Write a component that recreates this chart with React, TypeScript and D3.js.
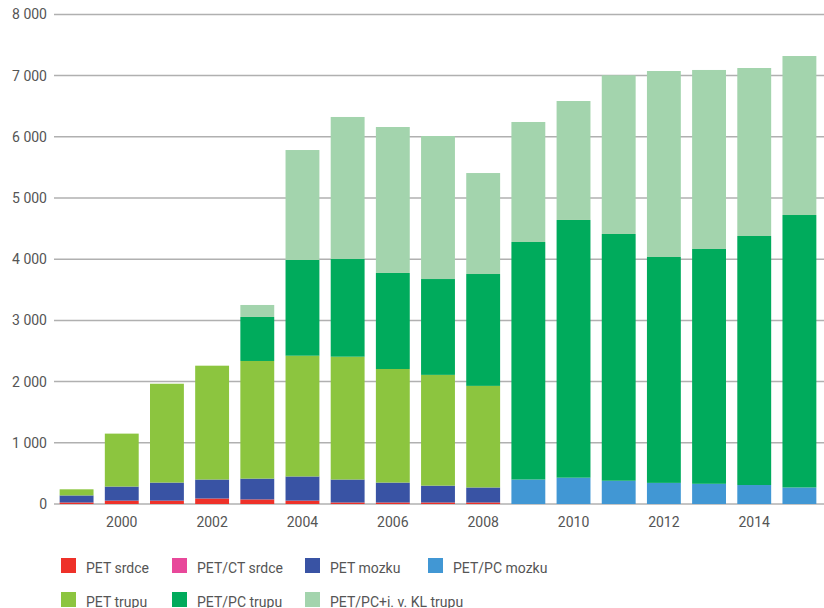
import React from "react";
import * as d3 from "d3";

const years = [1999, 2000, 2001, 2002, 2003, 2004, 2005, 2006, 2007, 2008, 2009, 2010, 2011, 2012, 2013, 2014, 2015];
const petSrdce = [25, 55, 55, 90, 75, 55, 25, 25, 25, 25, 0, 0, 0, 0, 0, 0, 0];
const petCtSrdce = [0, 0, 0, 0, 0, 0, 0, 0, 0, 0, 0, 0, 0, 0, 0, 0, 0];
const petMozku = [115, 230, 295, 310, 340, 395, 375, 325, 275, 245, 0, 0, 0, 0, 0, 0, 0];
const petPcMozku = [0, 0, 0, 0, 0, 0, 0, 0, 0, 0, 400, 430, 380, 345, 330, 310, 270];
const petTrupu = [100, 865, 1615, 1860, 1922, 1973, 2007, 1856, 1810, 1660, 0, 0, 0, 0, 0, 0, 0];
const petPcTrupu = [0, 0, 0, 0, 719, 1564, 1596, 1569, 1566, 1828, 3881, 4211, 4032, 3691, 3837, 4069, 4452];
const petPcKlTrupu = [0, 0, 0, 0, 196, 1797, 2321, 2385, 2337, 1650, 1961, 1944, 2593, 3039, 2925, 2745, 2598];

const seriesNames = ["PET srdce", "PET/CT srdce", "PET mozku", "PET/PC mozku", "PET trupu", "PET/PC trupu", "PET/PC+i. v. KL trupu"];
const seriesColors = ["#ee3129", "#e8489a", "#3953a4", "#4197d4", "#8cc53f", "#00ab5c", "#a3d4ad"];
const yTicks = [0, 1000, 2000, 3000, 4000, 5000, 6000, 7000, 8000];
const xTickYears = [2000, 2002, 2004, 2006, 2008, 2010, 2012, 2014];

const seriesValues = [petSrdce, petCtSrdce, petMozku, petPcMozku, petTrupu, petPcTrupu, petPcKlTrupu];

export default function App() {
  const W = 824, H = 608;
  const x = d3.scaleBand<number>().domain(years).range([54, 822]).paddingInner(0.25).paddingOuter(0.125);
  const y = d3.scaleLinear().domain([0, 8000]).range([504, 14.4]);
  const rows = years.map((yr, i) => {
    const r: any = { year: yr };
    seriesNames.forEach((n, k) => (r[n] = seriesValues[k][i]));
    return r;
  });
  const stacked = d3.stack<any>().keys(seriesNames)(rows);
  const fmt = (v: number) => d3.format(",")(v).replace(/,/g, " ");
  const font = "Roboto, 'DejaVu Sans', sans-serif";
  const legendPos = [
    [61, 558], [172, 558], [305, 558], [428, 558],
    [61, 592], [172, 592], [305, 592],
  ];
  return (
    <svg width={W} height={H} style={{ position: "absolute", left: 0, top: 0, background: "#fff" }} fontFamily={font}>
      {yTicks.map((t) => (
        <g key={t}>
          <line x1={54} x2={824} y1={y(t)} y2={y(t)} stroke="#b0b0b0" strokeWidth={1.5} />
          <text x={47} y={y(t)} dy="0.35em" textAnchor="end" fontSize={14} fill="#555">{fmt(t)}</text>
        </g>
      ))}
      {stacked.map((s, k) => (
        <g key={s.key} fill={seriesColors[k]}>
          {s.map((d, i) => {
            const h = y(d[0]) - y(d[1]);
            if (h <= 0) return null;
            return <rect key={i} x={x(years[i])} y={y(d[1])} width={x.bandwidth()} height={h} />;
          })}
        </g>
      ))}
      {xTickYears.map((yr) => (
        <text key={yr} x={(x(yr) as number) + x.bandwidth() / 2} y={527} textAnchor="middle" fontSize={14} fill="#555">{yr}</text>
      ))}
      {seriesNames.map((n, k) => (
        <g key={n} transform={`translate(${legendPos[k][0]},${legendPos[k][1]})`}>
          <rect width={15} height={15} fill={seriesColors[k]} />
          <text x={25} y={14.5} fontSize={14} fill="#555">{n}</text>
        </g>
      ))}
    </svg>
  );
}
